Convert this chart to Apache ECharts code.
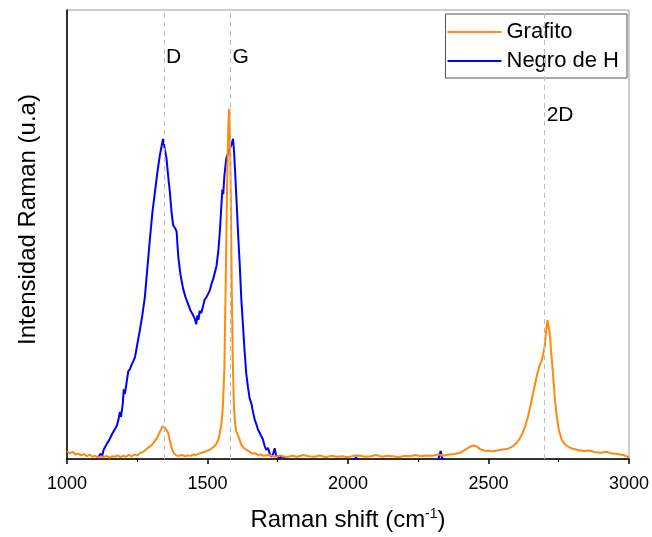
<!DOCTYPE html>
<html>
<head>
<meta charset="utf-8">
<title>Raman</title>
<script src="https://cdn.jsdelivr.net/npm/echarts/dist/echarts.min.js"></script>
<style>
    html, body { margin: 0; padding: 0; background: #fff; }
    #raman { width: 652px; height: 537px; }
</style>
</head>
<body>
<div id="raman"></div>
<script>
// Grafito
var grafitoShift = [1000,1010,1020,1030,1040,1050,1060,1070,1080,1090,1100,1110,1120,1130,1140,1150,1160,1170,1180,1190,
    1200,1210,1220,1230,1240,1250,1260,1270,1280,1290,1300,1310,1320,1330,1340,1345,1350,1355,1360,1365,1370,1375,1380,1390,
    1400,1410,1420,1430,1440,1450,1460,1470,1480,1490,1500,1510,1520,1530,1540,1550,1555,1560,1565,1570,1574,1577,1580,1583,
    1586,1590,1594,1598,1602,1606,1610,1615,1620,1630,1640,1650,1660,1670,1680,1690,1700,1720,1740,1760,1780,1800,1820,1840,
    1860,1880,1900,1920,1940,1960,1980,2000,2020,2040,2060,2080,2100,2120,2140,2160,2180,2200,2220,2240,2260,2280,2300,2320,
    2340,2360,2380,2400,2420,2440,2450,2460,2470,2480,2490,2500,2510,2520,2530,2540,2550,2560,2570,2580,2590,2600,2610,2620,
    2630,2640,2650,2660,2670,2680,2690,2700,2705,2710,2714,2718,2722,2727,2732,2737,2742,2750,2760,2770,2780,2790,2800,2820,
    2840,2860,2880,2900,2920,2940,2960,2980,3000];
var grafitoInt = [1.8,1.3,1.6,1.0,1.2,0.8,1.1,0.6,1.0,0.5,0.7,0.3,0.6,0.4,0.7,0.3,0.6,0.5,0.8,0.4,
    0.7,0.5,0.9,0.6,1.0,0.8,1.3,1.6,2.0,2.6,3.0,3.8,4.6,6.0,7.3,7.2,6.9,6.4,5.8,4.4,3.0,2.0,1.3,0.8,
    0.7,0.9,0.6,0.8,0.7,1.0,0.9,1.2,1.4,1.6,1.9,2.1,2.6,3.2,4.5,8,12,20,40,62,74,78,72,58,
    40,22,12,8,6.3,5.6,5.0,4.2,3.2,2.4,2.0,1.6,1.2,1.3,0.9,1.0,0.7,0.9,0.5,0.8,0.4,0.7,0.5,0.9,
    0.6,0.5,0.8,0.4,0.7,0.5,0.6,0.4,0.7,0.8,0.5,0.6,0.9,0.5,0.7,0.6,0.4,0.7,0.6,0.9,0.6,0.8,0.7,1.0,
    0.8,1.0,1.1,1.4,2.2,2.9,3.0,2.7,2.2,2.0,1.8,1.9,1.7,1.8,1.9,2.0,2.1,2.2,2.3,2.6,3.0,3.6,4.4,5.6,
    7.2,9.3,12,15,18,20.5,22,25,28.5,31,31,28,24.5,21,17,13,10,6.5,4.4,3.4,2.9,2.5,2.3,2.0,
    1.8,1.9,1.5,1.4,1.6,1.2,1.1,0.9,0.4];

// Negro de H
var negroShift = [1000,1050,1100,1110,1120,1125,1130,1141,1150,1160,1170,1178,1184,1188,1192,1198,1202,1206,1212,1218,
    1224,1230,1236,1242,1250,1259,1268,1277,1286,1295,1304,1313,1322,1330,1336,1342,1348,1354,1360,1366,1372,1378,1384,1390,
    1396,1404,1413,1422,1431,1440,1449,1455,1460,1464,1468,1472,1478,1484,1490,1496,1502,1508,1514,1520,1526,1532,1538,1544,
    1549,1553,1556,1560,1567,1573,1579,1585,1591,1595,1599,1603,1609,1615,1620,1626,1632,1638,1644,1650,1656,1662,1668,1674,
    1680,1686,1692,1697,1703,1709,1715,1721,1727,1733,1739,1744,1750,1757,1765,1775,1785,1900,2000,2030,2036,2100,2320,2326,
    2330,2334,2340,2600,3000];
var negroInt = [-1,-0.8,-0.8,0.3,1.2,0.6,2.0,3.3,4.2,5.5,6.6,7.5,9.0,10.5,9.4,12,15.5,14.5,17,19.5,
    20,21,21.8,22.7,25.5,28.6,32,36,42.5,49,55,59.5,64,67.5,69.5,71.3,69,67,63,59.5,55,52,51.5,50.7,
    45,41,38,36,34.5,33,32,31.2,30,32,31,33,32.5,34,35.5,36,35.6,37.5,39,40,41.5,43,46,50.7,
    56,60,59,63,67,68,69,70,71.3,68,63,58,50,43,36,30,24,19,16,13.5,12.4,10.5,8.8,7.7,
    6.5,5.8,5.0,4.4,3.0,2.0,2.5,1.3,0.5,1.0,2.4,0.8,1.0,0.2,0.6,0.3,-0.5,-0.8,-0.8,0.3,-0.6,-0.8,-0.5,1.0,
    1.8,0.4,-0.5,-0.8,-0.8];

// bandas D, G, 2D
var bandNames = ['D', 'G', '2D'];
var bandShift = [1345, 1582, 2700];
var bandLabelY = [89.5, 89.5, 76.5];

var font = 'Liberation Sans, Arial, sans-serif';

function pairs(xs, ys) {
    var out = [];
    for (var i = 0; i < xs.length; i++) {
        out.push([xs[i], ys[i]]);
    }
    return out;
}

var bandPoints = [], bandLines = [];
bandNames.forEach(function (n, i) {
    bandPoints.push({ name: n, value: [bandShift[i], bandLabelY[i]] });
    bandLines.push({ xAxis: bandShift[i] });
});

var option = {
    animation: false,
    textStyle: { fontFamily: font },
    grid: {
        left: 67,
        right: 22,
        top: 10,
        bottom: 74,
        show: true,
        borderColor: '#999',
        borderWidth: 1
    },
    legend: {
        orient: 'vertical',
        right: 25,
        top: 14,
        data: ['Grafito', 'Negro de H'],
        icon: 'rect',
        itemWidth: 54,
        itemHeight: 2,
        itemGap: 5,
        padding: [6, 8, 5, 2],
        borderColor: '#555',
        borderWidth: 1,
        borderRadius: 0,
        textStyle: { fontSize: 22, color: '#000', fontFamily: font, lineHeight: 24 }
    },
    xAxis: {
        type: 'value',
        min: 1000,
        max: 3000,
        interval: 500,
        name: 'Raman shift (cm{sup|-1})',
        nameLocation: 'middle',
        nameGap: 48,
        nameTextStyle: {
            fontSize: 24,
            color: '#000',
            fontFamily: font,
            rich: {
                sup: { fontSize: 14, color: '#000', verticalAlign: 'bottom', padding: [0, 0, 12, 0], fontFamily: font }
            }
        },
        axisLine: { onZero: false, lineStyle: { color: '#000', width: 1.5 } },
        axisTick: { show: true, inside: false, length: 5, lineStyle: { color: '#000', width: 1.5 } },
        minorTick: { show: true, splitNumber: 2, length: 3, lineStyle: { color: '#000', width: 1 } },
        axisLabel: {
            fontSize: 18,
            color: '#000',
            margin: 16,
            fontFamily: font,
            formatter: function (v) { return String(v); }
        },
        splitLine: { show: false }
    },
    yAxis: {
        type: 'value',
        min: 0,
        max: 100,
        name: 'Intensidad Raman (u.a)',
        nameLocation: 'middle',
        nameGap: 27,
        nameTextStyle: { fontSize: 24, color: '#000', fontFamily: font, padding: [0, 0, 0, 30] },
        axisLine: { show: true, lineStyle: { color: '#000', width: 1.5 } },
        axisTick: { show: false },
        axisLabel: { show: false },
        splitLine: { show: false }
    },
    series: [
        {
            name: 'Negro de H',
            type: 'line',
            data: pairs(negroShift, negroInt),
            symbol: 'none',
            clip: true,
            z: 2,
            lineStyle: { color: '#0000ff', width: 2 },
            itemStyle: { color: '#0000ff' }
        },
        {
            name: 'Grafito',
            type: 'line',
            data: pairs(grafitoShift, grafitoInt),
            symbol: 'none',
            clip: true,
            z: 3,
            lineStyle: { color: '#ff8a0c', width: 2 },
            itemStyle: { color: '#ff8a0c' }
        },
        {
            name: 'bandas',
            type: 'scatter',
            data: bandPoints,
            symbolSize: 0,
            silent: true,
            z: 1,
            itemStyle: { opacity: 1, color: '#000' },
            label: {
                show: true,
                position: 'right',
                distance: 2,
                formatter: '{b}',
                fontSize: 21,
                color: '#000',
                opacity: 1,
                fontFamily: font
            },
            markLine: {
                silent: true,
                symbol: 'none',
                label: { show: false },
                lineStyle: { color: '#bdbdbd', type: [5, 4], width: 1 },
                data: bandLines
            }
        }
    ]
};

var chart = echarts.init(document.getElementById('raman'));
chart.setOption(option);
</script>
</body>
</html>
